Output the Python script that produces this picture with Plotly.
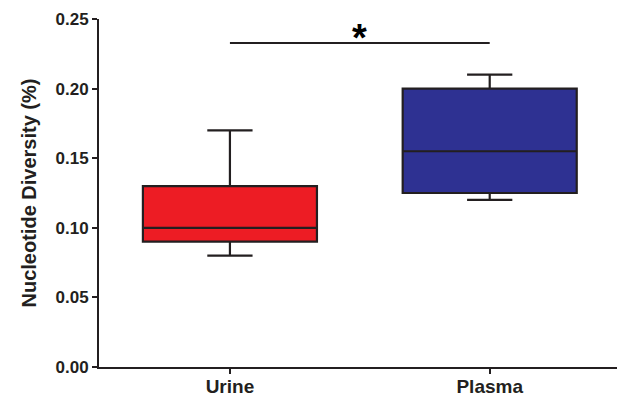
import plotly.graph_objects as go

categories = ["Urine", "Plasma"]
lower = [0.08, 0.12]
q1 = [0.09, 0.125]
median = [0.10, 0.155]
q3 = [0.13, 0.20]
upper = [0.17, 0.21]
colors = ["#ED1C24", "#2E3192"]
sig_y = 0.2328
sig_label = "*"
yticks = [0.0, 0.05, 0.10, 0.15, 0.20, 0.25]

FONT = "Liberation Sans"
INK = "#231F20"

fig = go.Figure()
for i, c in enumerate(categories):
    fig.add_trace(go.Box(
        x=[c], q1=[q1[i]], median=[median[i]], q3=[q3[i]],
        lowerfence=[lower[i]], upperfence=[upper[i]],
        fillcolor=colors[i], line=dict(color=INK, width=2.2),
        width=0.67, whiskerwidth=0.26, showlegend=False, hoverinfo="skip",
        boxpoints=False,
    ))

fig.add_trace(go.Scatter(x=categories, y=[sig_y, sig_y], mode="lines",
                         line=dict(color=INK, width=2), showlegend=False,
                         hoverinfo="skip"))
fig.add_annotation(x=0.5, y=sig_y, xref="x", yref="y", text=sig_label,
                   showarrow=False, yanchor="bottom", yshift=-18,
                   font=dict(family=FONT, size=38, color="#000", weight="bold"))

fig.update_layout(
    width=618, height=396,
    margin=dict(l=99, r=1, t=19, b=29),
    paper_bgcolor="white", plot_bgcolor="white",
    font=dict(family=FONT, color=INK),
)
fig.update_xaxes(
    type="category", range=[-0.504, 1.49], automargin=False,
    showline=True, linecolor=INK, linewidth=2,
    ticks="outside", ticklen=5, tickwidth=2, tickcolor=INK,
    ticklabelstandoff=-4,
    tickfont=dict(size=19, family=FONT, color=INK, weight="bold"),
    showgrid=False, zeroline=False,
)
fig.update_yaxes(
    range=[0, 0.25], tickvals=yticks, tickformat=".2f", automargin=False,
    showline=True, linecolor=INK, linewidth=2,
    ticks="outside", ticklen=5, tickwidth=2, tickcolor=INK,
    tickfont=dict(size=17, family=FONT, color=INK, weight="bold"),
    showgrid=False, zeroline=False,
    title=dict(text="Nucleotide Diversity (%)", standoff=14,
               font=dict(size=20, family=FONT, color=INK, weight="bold")),
)

fig.write_html("out.html")
